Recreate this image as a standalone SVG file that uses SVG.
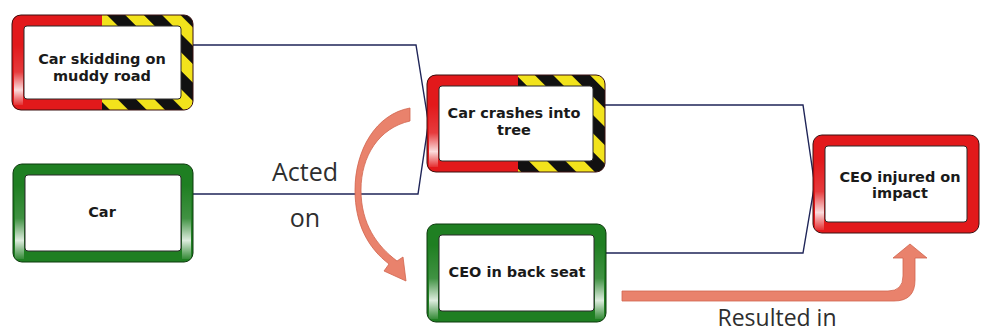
<svg xmlns="http://www.w3.org/2000/svg" width="981" height="334" viewBox="0 0 981 334">
  <style>
    .edge { fill: none; stroke: #1f2558; stroke-width: 1.4; }
    .outline { fill: none; stroke: #3a1010; stroke-width: 1; }
    .outline-g { fill: none; stroke: #0d3a0d; stroke-width: 1; }
    .inner { fill: #ffffff; stroke: #2a2a2a; stroke-width: 1; }
    .red { fill: #e2191b; }
    .green { fill: #1f7f22; }
    .label { font-family: "DejaVu Sans", Verdana, sans-serif; font-weight: bold; font-size: 14.5px; fill: #1a1a1a; text-anchor: middle; }
    .note { font-family: "Open Sans", "Liberation Sans", sans-serif; font-size: 25px; fill: #2e2e2e; text-anchor: middle; }
    .flow { fill: #e9826c; stroke: #d0644e; stroke-width: 0.8; }
  </style>
  <defs>
    <pattern id="hazard" width="26" height="26" patternUnits="userSpaceOnUse" patternTransform="rotate(-45)">
      <rect width="26" height="26" fill="#111111"/>
      <rect width="13" height="26" fill="#f2e31c"/>
    </pattern>
    <linearGradient id="sheen" x1="0" y1="0" x2="0" y2="1">
      <stop offset="0" stop-color="#ffffff" stop-opacity="0"/>
      <stop offset="0.45" stop-color="#ffffff" stop-opacity="0.15"/>
      <stop offset="0.75" stop-color="#ffffff" stop-opacity="0.85"/>
      <stop offset="1" stop-color="#ffffff" stop-opacity="0.1"/>
    </linearGradient>
  </defs>

  <!-- connectors -->
  <g id="connectors">
    <path class="edge" d="M193,45 H416 L428,120"/>
    <path class="edge" d="M193,194 H418 L428,126"/>
    <path class="edge" d="M605,105 H803 L814,180"/>
    <path class="edge" d="M606,253 H803 L814,188"/>
  </g>

  <!-- node: car skidding -->
  <g id="n-skid">
    <rect x="12" y="15" width="181" height="95" rx="9" fill="url(#hazard)"/>
    <path class="red" d="M102,15 H21 Q12,15 12,24 V101 Q12,110 21,110 H102 Z"/>
    <rect x="14" y="45" width="9" height="60" fill="url(#sheen)"/>
    <rect class="outline" x="12" y="15" width="181" height="95" rx="9"/>
    <rect class="inner" x="24" y="26" width="157" height="73" rx="3"/>
    <text class="label" x="102" y="64">Car skidding on</text>
    <text class="label" x="102" y="81">muddy road</text>
  </g>

  <!-- node: car -->
  <g id="n-car">
    <rect class="green" x="13" y="164" width="180" height="98" rx="9"/>
    <rect x="15" y="185" width="9" height="74" fill="url(#sheen)"/>
    <rect x="182" y="185" width="9" height="74" fill="url(#sheen)"/>
    <rect class="outline-g" x="13" y="164" width="180" height="98" rx="9"/>
    <rect class="inner" x="25" y="175" width="156" height="76" rx="3"/>
    <text class="label" x="102" y="217">Car</text>
  </g>

  <!-- node: crash -->
  <g id="n-crash">
    <rect x="427" y="75" width="178" height="97" rx="9" fill="url(#hazard)"/>
    <path class="red" d="M518,75 H436 Q427,75 427,84 V163 Q427,172 436,172 H518 Z"/>
    <rect x="429" y="105" width="9" height="62" fill="url(#sheen)"/>
    <rect class="outline" x="427" y="75" width="178" height="97" rx="9"/>
    <rect class="inner" x="439" y="86" width="154" height="75" rx="3"/>
    <text class="label" x="514" y="118">Car crashes into</text>
    <text class="label" x="514" y="135">tree</text>
  </g>

  <!-- node: CEO in back seat -->
  <g id="n-seat">
    <rect class="green" x="427" y="224" width="179" height="98" rx="9"/>
    <rect x="429" y="245" width="9" height="74" fill="url(#sheen)"/>
    <rect x="595" y="245" width="9" height="74" fill="url(#sheen)"/>
    <rect class="outline-g" x="427" y="224" width="179" height="98" rx="9"/>
    <rect class="inner" x="439" y="235" width="155" height="76" rx="3"/>
    <text class="label" x="517" y="277">CEO in back seat</text>
  </g>

  <!-- node: CEO injured -->
  <g id="n-injured">
    <rect class="red" x="813" y="135" width="166" height="98" rx="9"/>
    <rect x="815" y="160" width="9" height="70" fill="url(#sheen)"/>
    <rect class="outline" x="813" y="135" width="166" height="98" rx="9"/>
    <rect class="inner" x="825" y="146" width="142" height="76" rx="3"/>
    <text class="label" x="900" y="182">CEO injured on</text>
    <text class="label" x="900" y="198">impact</text>
  </g>

  <!-- annotation arrows and labels -->
  <g id="acted-on">
    <path class="flow" d="M410,108 C376,114 355,150 355,190 C355,224 368,248 389,264 L384,271 L406,281 L403,257 L397,261 C377,246 361,224 361,190 C361,156 379,128 410,121 Z"/>
    <text class="note" x="305" y="181">Acted</text>
    <text class="note" x="305" y="227">on</text>
  </g>
  <g id="resulted-in">
    <path class="flow" d="M622,291 H888 Q903,291 903,276 V258 H893 L910,244 L927,258 H915 V280 Q915,301 894,301 H622 Z"/>
    <text class="note" x="777" y="326" style="font-size:23px">Resulted in</text>
  </g>
</svg>
